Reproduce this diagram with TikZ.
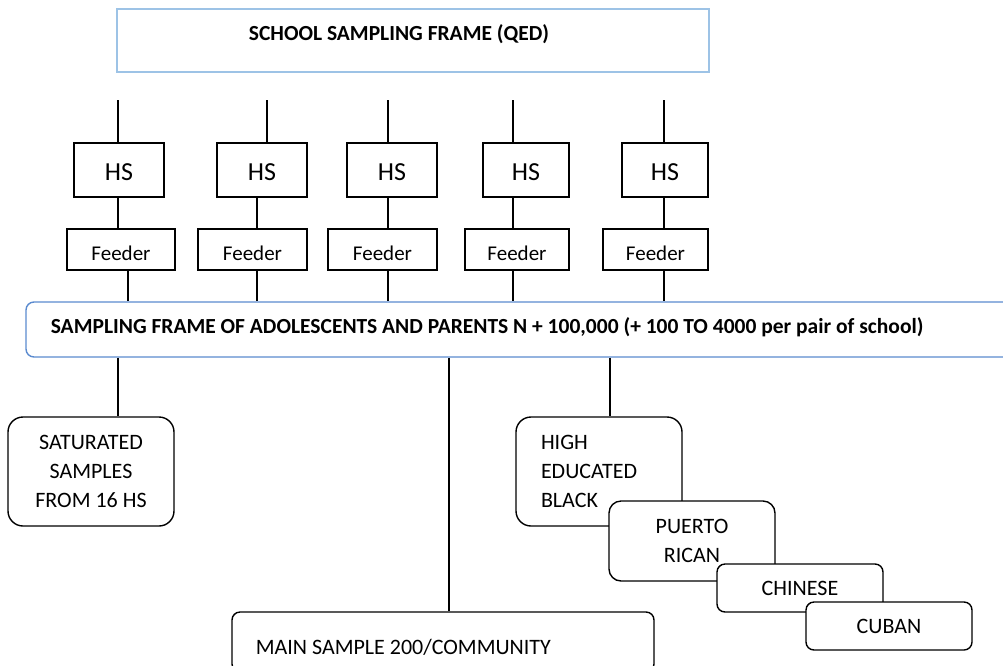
\documentclass[tikz,border=0pt]{standalone}
\usepackage{fontspec}
\setmainfont{Carlito}
\definecolor{topblue}{RGB}{157,195,230}
\definecolor{frameblue}{RGB}{91,139,207}
\begin{document}
\begin{tikzpicture}[x=1pt,y=-1pt,
  box/.style={draw=black, line width=1.4pt, fill=white, inner sep=0pt},
  rbox/.style={box, rounded corners=#1},
  conn/.style={line width=1.4pt},
  bigtxt/.style={font=\fontsize{26}{30}\selectfont},
  midtxt/.style={font=\fontsize{21}{25}\selectfont},
  txt/.style={font=\fontsize{22}{29}\selectfont},
  boldtxt/.style={font=\fontsize{21.5}{25}\selectfont\bfseries}]
\useasboundingbox (0,0) rectangle (1003,665);

% top box
\node[draw=topblue, line width=1.4pt, minimum width=592pt, minimum height=63pt, inner sep=0pt,
  label={[boldtxt, xshift=-14pt, yshift=6.5pt]center:SCHOOL SAMPLING FRAME (QED)}] (qed) at (413,40.5) {};

% columns: index / top-line x / mid-line x / bottom-line x / HS centre / HS width / feeder centre / feeder width
\foreach \i/\a/\b/\c/\hx/\hw/\fx/\fw in {
  1/118/118/128/119/90/121/108,
  2/267/257/257/262/90/252.5/109,
  3/388/388/388/392/90/382.5/109,
  4/513/513/513/526/86/517/104,
  5/664/664/664/665/86/655.5/105}{
  \node[box, minimum width=\hw pt, minimum height=54pt,
    label={[bigtxt, yshift=-2pt]center:HS}] (hs\i) at (\hx,170) {};
  \node[box, minimum width=\fw pt, minimum height=41pt,
    label={[midtxt, yshift=-3.5pt]center:Feeder}] (fd\i) at (\fx,249.5) {};
  \coordinate (ta\i) at (\a,100);
  \coordinate (mb\i) at (\b,0);
  \coordinate (bc\i) at (\c,0);
  \draw[conn] (ta\i) -- (ta\i |- hs\i.north);
  \draw[conn] (mb\i |- hs\i.south) -- (mb\i |- fd\i.north);
}

% sampling frame
\node[draw=frameblue, line width=1.4pt, rounded corners=8pt, fill=white, inner sep=0pt,
  minimum width=986pt, minimum height=55pt,
  label={[boldtxt, anchor=west, xshift=22pt, yshift=2.5pt]west:SAMPLING FRAME OF ADOLESCENTS AND PARENTS N + 100,000 (+ 100 TO 4000 per pair of school)}] (frame) at (519,329.5) {};
\foreach \i in {1,...,5}{
  \draw[conn] (bc\i |- fd\i.south) -- (bc\i |- frame.north);
}

% lower boxes
\node[rbox=15pt, txt, align=center, minimum width=166pt, minimum height=109pt] (sat) at (91,471.5)
  {SATURATED\\SAMPLES\\FROM 16 HS};
\node[rbox=8pt, minimum width=422pt, minimum height=60pt,
  label={[txt, anchor=west, xshift=21pt, yshift=-5pt]west:MAIN SAMPLE 200/COMMUNITY}] (main) at (443,642) {};
\node[rbox=15pt, txt, align=left, text width=116pt, inner xsep=25pt, minimum height=109pt] (high) at (599,471.5)
  {HIGH\\EDUCATED\\BLACK};
\node[rbox=12pt, txt, align=center, minimum width=166pt, minimum height=80pt] (pr) at (692,541)
  {PUERTO\\RICAN};
\node[rbox=8pt, txt, minimum width=166pt, minimum height=48pt] (chn) at (800,588) {CHINESE};
\node[rbox=8pt, txt, minimum width=166pt, minimum height=48pt] (cub) at (889,626) {CUBAN};

\coordinate (l1) at (118,0);
\coordinate (l2) at (449,0);
\coordinate (l3) at (610,0);
\draw[conn] (l1 |- frame.south) -- (l1 |- sat.north);
\draw[conn] (l2 |- frame.south) -- (l2 |- main.north);
\draw[conn] (l3 |- frame.south) -- (l3 |- high.north);
\end{tikzpicture}
\end{document}
